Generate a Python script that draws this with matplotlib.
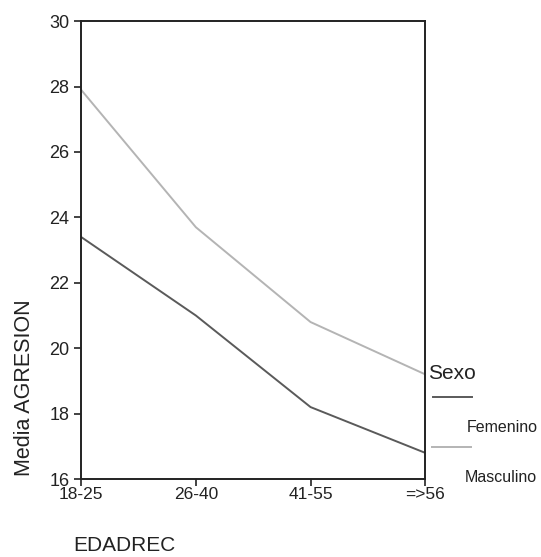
import matplotlib.pyplot as plt
from matplotlib.lines import Line2D

plt.rcParams['font.family'] = ['Liberation Sans', 'DejaVu Sans']

edad = ['18-25', '26-40', '41-55', '=>56']
femenino = [23.4, 21.0, 18.2, 16.8]
masculino = [27.9, 23.7, 20.8, 19.2]
yticks = [16, 18, 20, 22, 24, 26, 28, 30]

fig = plt.figure(figsize=(5.41, 5.57), dpi=100)
ax = fig.add_axes([0.150, 0.140, 0.636, 0.822])

x = range(len(edad))
ax.plot(x, femenino, color='#5a5a5a', lw=1.4)
ax.plot(x, masculino, color='#b4b4b4', lw=1.4)

ax.set_xlim(0, 3)
ax.set_ylim(16, 30)
ax.set_xticks(list(x))
ax.set_xticklabels(edad, fontsize=12.5, color='#222')
ax.set_yticks(yticks)
ax.set_yticklabels([str(v) for v in yticks], fontsize=13, color='#222')
ax.tick_params(axis='both', direction='out', length=5, width=1.2, color='#222')
ax.tick_params(axis='x', pad=1)
for s in ax.spines.values():
    s.set_linewidth(1.4)
    s.set_color('#222')

ax.set_ylabel('Media AGRESION', fontsize=15.5, color='#222')
ax.yaxis.set_label_coords(-0.135, 0.2)
fig.text(0.135, 0.0215, 'EDADREC', fontsize=15, color='#222', ha='left', va='center')

# legend drawn to the right of the axes
fig.text(0.792, 0.330, 'Sexo', fontsize=15, color='#222', va='center')
fig.add_artist(Line2D([0.800, 0.873], [0.287, 0.287], color='#5a5a5a', lw=1.4))
fig.text(0.863, 0.232, 'Femenino', fontsize=11.5, color='#222', va='center')
fig.add_artist(Line2D([0.798, 0.871], [0.197, 0.197], color='#b4b4b4', lw=1.4))
fig.text(0.859, 0.143, 'Masculino', fontsize=11.5, color='#222', va='center')

fig.savefig('out.png', dpi=100)
